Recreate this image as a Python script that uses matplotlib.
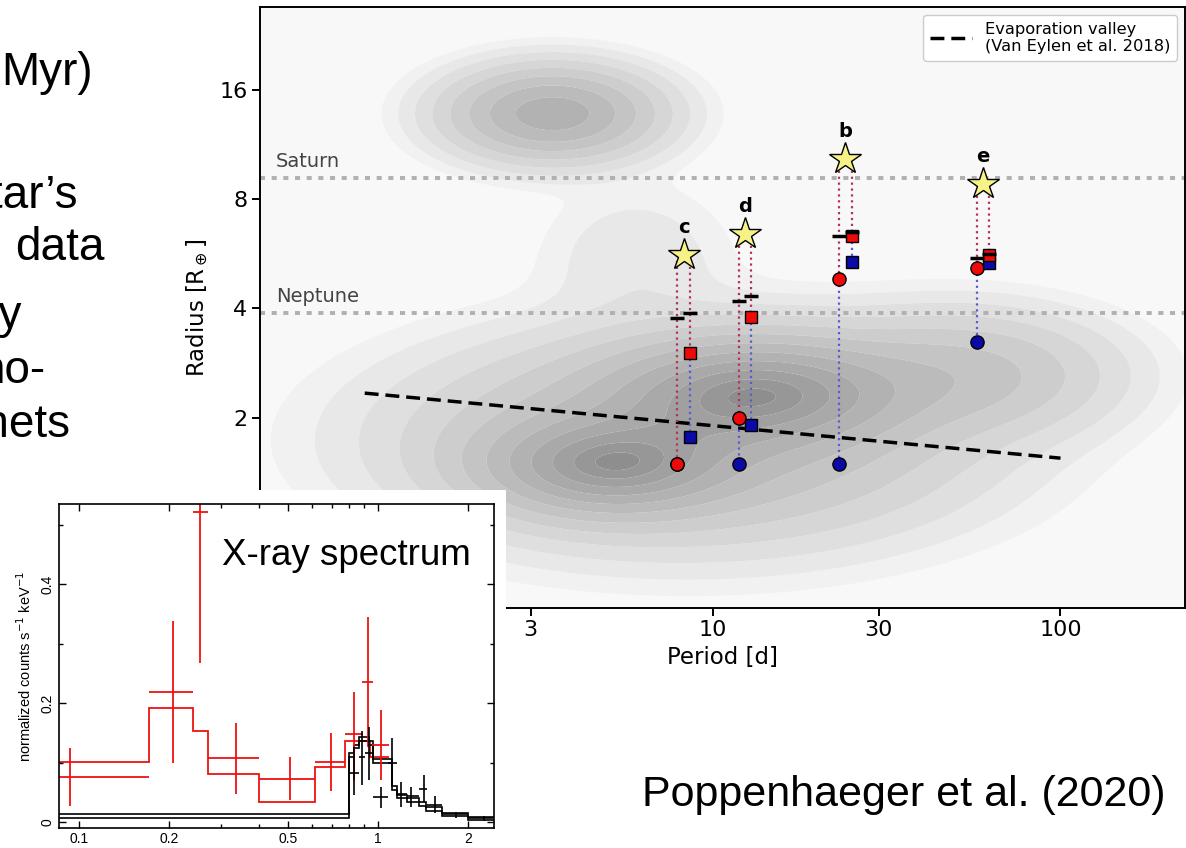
import numpy as np
import matplotlib
matplotlib.use("Agg")
import matplotlib.pyplot as plt
from matplotlib.colors import LinearSegmentedColormap
from matplotlib.patches import Rectangle

# ---------------- main panel data ----------------
planet_names = ['c', 'd', 'b', 'e']
planet_period = [8.25, 12.4, 24.1, 59.8]
planet_radius = [5.6, 6.4, 10.3, 8.8]
# left column (circles)
circ_dash_R = [3.76, 4.20, 6.33, 5.49]
circ_red_R = [1.495, 2.0, 4.83, 5.16]
circ_blue_R = [1.495, 1.495, 1.495, 3.24]
# right column (squares)
sq_dash_R = [3.88, 4.33, 6.48, 5.64]
sq_red_R = [3.01, 3.78, 6.33, 5.61]
sq_blue_R = [1.77, 1.91, 5.38, 5.33]

valley_P = [1.0, 100.0]
valley_R = [2.34, 1.55]
ref_names = ['Saturn', 'Neptune']
ref_R = [9.14, 3.88]

# background occurrence density: components in (log10 P, log2 R)
kde_logP = [0.54, 1.13, 0.70, 0.93, 1.72, 0.78]
kde_log2R = [3.78, 1.23, 0.57, 0.80, 1.40, 2.45]
kde_sigP = [0.165, 0.24, 0.20, 0.42, 0.24, 0.16]
kde_sigR = [0.235, 0.28, 0.25, 0.50, 0.32, 0.40]
kde_w = [0.50, 0.75, 0.70, 0.35, 0.20, 0.025]

# ---------------- inset (X-ray spectrum) data ----------------
red_E = [0.0933, 0.206, 0.255, 0.335, 0.509, 0.697, 0.831, 0.923, 1.023]
red_Elo = [0.0859, 0.172, 0.241, 0.2715, 0.401, 0.617, 0.776, 0.882, 0.955]
red_Ehi = [0.172, 0.241, 0.2715, 0.401, 0.617, 0.776, 0.893, 0.965, 1.09]
red_y = [0.0756, 0.2185, 0.521, 0.1076, 0.0723, 0.1008, 0.148, 0.235, 0.129]
red_ylo = [0.027, 0.099, 0.267, 0.0476, 0.0375, 0.053, 0.071, 0.127, 0.071]
red_yhi = [0.124, 0.339, 0.60, 0.166, 0.1087, 0.150, 0.2185, 0.345, 0.189]
red_model_edges = [0.0859, 0.172, 0.241, 0.2715, 0.401, 0.617, 0.776, 0.94, 1.09]
red_model_vals = [0.1008, 0.1916, 0.154, 0.0807, 0.0336, 0.0919, 0.137, 0.110]

blk_E = [0.831, 0.886, 0.933, 1.02, 1.11, 1.19, 1.293, 1.429, 1.555, 1.823, 2.26]
blk_Elo = [0.80, 0.866, 0.905, 0.965, 1.083, 1.155, 1.253, 1.374, 1.455, 1.633, 2.005]
blk_Ehi = [0.866, 0.905, 0.965, 1.083, 1.155, 1.253, 1.374, 1.455, 1.633, 2.005, 2.43]
blk_y = [0.082, 0.110, 0.116, 0.0415, 0.100, 0.048, 0.0437, 0.0555, 0.0286, 0.0134, 0.0062]
blk_ylo = [0.046, 0.062, 0.071, 0.023, 0.060, 0.026, 0.026, 0.034, 0.0146, 0.006, 0.002]
blk_yhi = [0.127, 0.153, 0.160, 0.059, 0.141, 0.068, 0.059, 0.079, 0.0437, 0.017, 0.010]
blk_model_edges = [0.0859, 0.80, 0.83, 0.866, 0.935, 0.965, 1.11, 1.155, 1.25, 1.37, 1.45, 1.63, 2.0, 2.44]
blk_model_hi = [0.013, 0.116, 0.130, 0.143, 0.136, 0.106, 0.060, 0.046, 0.040, 0.033, 0.025, 0.016, 0.009]
blk_model_lo = [0.007, 0.110, 0.124, 0.137, 0.130, 0.100, 0.054, 0.040, 0.034, 0.027, 0.019, 0.011, 0.004]

# slide text
slide_lines = ['Myr)', 'star\u2019s', 'data', 'by', 'no-', 'planets']
slide_right_px = [93, 78, 105, 22, 45, 70]
slide_base_px = [85, 208, 260, 328, 383, 437]

# ---------------- figure ----------------
W, H = 1186, 848
fig = plt.figure(figsize=(W / 100, H / 100), dpi=100)
fig.patch.set_facecolor('white')


def fx(px):
    return px / W


def fy(py):
    return 1 - py / H


ax = fig.add_axes([fx(260), fy(608), fx(1185) - fx(260), fy(7) - fy(608)])
ax.set_zorder(1)
ax.set_xscale('log')
ax.set_yscale('log')
ax.set_xlim(0.5, 228)
ax.set_ylim(0.6, 27)
ax.set_facecolor('#f8f8f8')

Pg = np.logspace(np.log10(0.5), np.log10(228), 500)
Rg = np.logspace(np.log10(0.6), np.log10(27), 500)
PP, RR = np.meshgrid(Pg, Rg)
U = np.log10(PP)
V = np.log2(RR)
Z = np.zeros_like(U)
for u0, v0, su, sv, w in zip(kde_logP, kde_log2R, kde_sigP, kde_sigR, kde_w):
    Z += w * np.exp(-0.5 * (((U - u0) / su) ** 2 + ((V - v0) / sv) ** 2))
n_bands = 12
r_levels = np.linspace(3.2, 0.0, n_bands + 1)
levels = Z.max() * np.exp(-0.5 * r_levels ** 2)
levels[-1] = Z.max() * 1.001
cmap = LinearSegmentedColormap.from_list('g', ['#f1f1f1', '#8e8e8e'])
ax.contourf(PP, RR, Z, levels=levels, colors=[cmap(k / (n_bands - 1)) for k in range(n_bands)],
            zorder=0, antialiased=True)

for name, r in zip(ref_names, ref_R):
    ax.axhline(r, color='#b0b0b0', ls=(0, (1.3, 1.7)), lw=2.8, zorder=1)
    ax.annotate(name, xy=(0.555, r), xytext=(0, 5), textcoords='offset points',
                ha='left', va='bottom', fontsize=14, color='#444444')

ax.plot(valley_P, valley_R, color='black', ls=(0, (4, 2)), lw=2.5, zorder=2,
        label='Evaporation valley\n(Van Eylen et al. 2018)')

crimson = '#b3315f'
bluedot = '#5a5ad2'
red = '#ee0a0a'
blue = '#0a0aa8'
off = 10 ** 0.0175
for i, name in enumerate(planet_names):
    P = planet_period[i]
    Pl, Pr = P / off, P * off
    R0 = planet_radius[i]
    ax.plot([Pl, Pl], [R0, circ_red_R[i]], color=crimson, ls=':', lw=1.6, zorder=3)
    ax.plot([Pl, Pl], [circ_red_R[i], circ_blue_R[i]], color=bluedot, ls=':', lw=1.6, zorder=3)
    ax.plot([Pr, Pr], [R0, sq_red_R[i]], color=crimson, ls=':', lw=1.6, zorder=3)
    ax.plot([Pr, Pr], [sq_red_R[i], sq_blue_R[i]], color=bluedot, ls=':', lw=1.6, zorder=3)
    ax.plot(Pl, circ_blue_R[i], 'o', ms=9.5, mfc=blue, mec='black', mew=1.0, zorder=5)
    ax.plot(Pl, circ_red_R[i], 'o', ms=9.5, mfc=red, mec='black', mew=1.0, zorder=5)
    ax.plot(Pr, sq_blue_R[i], 's', ms=8, mfc=blue, mec='black', mew=1.0, zorder=5)
    ax.plot(Pr, sq_red_R[i], 's', ms=8, mfc=red, mec='black', mew=1.0, zorder=5)
    ax.plot(Pl, circ_dash_R[i], marker='_', ms=10, mew=2.5, color='black', zorder=6)
    ax.plot(Pr, sq_dash_R[i], marker='_', ms=10, mew=2.5, color='black', zorder=6)
    ax.plot(P, R0, marker='*', ms=24, mfc='#f6f285', mec='black', mew=1.0, zorder=7)
    ax.annotate(name, xy=(P, R0), xytext=(0, 13), textcoords='offset points',
                ha='center', va='bottom', fontsize=14, fontweight='bold', zorder=8)

ax.set_xticks([3, 10, 30, 100])
ax.set_xticklabels(['3', '10', '30', '100'])
ax.set_yticks([2, 4, 8, 16])
ax.set_yticklabels(['2', '4', '8', '16'])
ax.minorticks_off()
ax.tick_params(labelsize=16, length=6, width=1.4, pad=3)
for s in ax.spines.values():
    s.set_linewidth(1.4)
ax.set_xlabel('Period [d]', fontsize=16.5, labelpad=4)
ax.set_ylabel('Radius [R$_\\oplus$]', fontsize=16.5, labelpad=6)
leg = ax.legend(loc='upper right', fontsize=11.7, frameon=True, fancybox=True,
                edgecolor='#cccccc', framealpha=1.0, handlelength=2.6)
leg.set_zorder(10)

# white pasted box behind inset
fig.add_artist(Rectangle((0, 0), fx(506), fy(490), transform=fig.transFigure,
                         facecolor='white', edgecolor='none', zorder=2))

# ---------------- inset ----------------
ax2 = fig.add_axes([fx(59), fy(828), fx(494) - fx(59), fy(504) - fy(828)])
ax2.set_zorder(3)
ax2.set_facecolor('white')
ax2.set_xscale('log')
ax2.set_xlim(0.086, 2.44)
ax2.set_ylim(-0.01, 0.535)

ax2.stairs(red_model_vals, red_model_edges, color='#ee1111', lw=1.3, baseline=None)
ax2.stairs(blk_model_hi, blk_model_edges, color='black', lw=1.2, baseline=None)
ax2.stairs(blk_model_lo, blk_model_edges, color='black', lw=1.2, baseline=None)
rE = np.array(red_E); ry = np.array(red_y)
ax2.errorbar(rE, ry, xerr=[rE - np.array(red_Elo), np.array(red_Ehi) - rE],
             yerr=[ry - np.array(red_ylo), np.array(red_yhi) - ry],
             fmt='none', ecolor='#ee1111', elinewidth=1.3, capsize=0)
bE = np.array(blk_E); by = np.array(blk_y)
ax2.errorbar(bE, by, xerr=[bE - np.array(blk_Elo), np.array(blk_Ehi) - bE],
             yerr=[by - np.array(blk_ylo), np.array(blk_yhi) - by],
             fmt='none', ecolor='black', elinewidth=1.2, capsize=0)

ax2.set_xticks([0.1, 0.2, 0.5, 1, 2])
ax2.set_xticklabels(['0.1', '0.2', '0.5', '1', '2'], family='Liberation Sans', fontsize=10)
ax2.set_xticks([0.3, 0.4, 0.6, 0.7, 0.8, 0.9], minor=True)
ax2.set_xticklabels([], minor=True)
ax2.set_yticks([0, 0.2, 0.4])
ax2.set_yticklabels(['0', '0.2', '0.4'], family='Liberation Sans', fontsize=10,
                    rotation=90, va='center')
ax2.set_yticks([0.1, 0.3, 0.5], minor=True)
ax2.tick_params(which='both', direction='in', top=True, right=True, width=1.0)
ax2.tick_params(which='major', length=5, pad=3)
ax2.tick_params(which='minor', length=3)
for s in ax2.spines.values():
    s.set_linewidth(1.2)
ax2.set_ylabel('normalized counts s$^{-1}$ keV$^{-1}$', family='Liberation Sans',
               fontsize=10.5, labelpad=5)

fig.text(fx(222), fy(565), 'X-ray spectrum', family='Liberation Sans', fontsize=26.5,
         ha='left', va='baseline', zorder=5)

# ---------------- slide text ----------------
for txt, xr, yb in zip(slide_lines, slide_right_px, slide_base_px):
    fig.text(fx(xr), fy(yb), txt, family='Liberation Sans', fontsize=33,
             ha='right', va='baseline', zorder=5)
fig.text(fx(1166), fy(806), 'Poppenhaeger et al. (2020)', family='Liberation Sans',
         fontsize=31, ha='right', va='baseline', zorder=5)

fig.savefig('out.png', dpi=100, facecolor='white')
